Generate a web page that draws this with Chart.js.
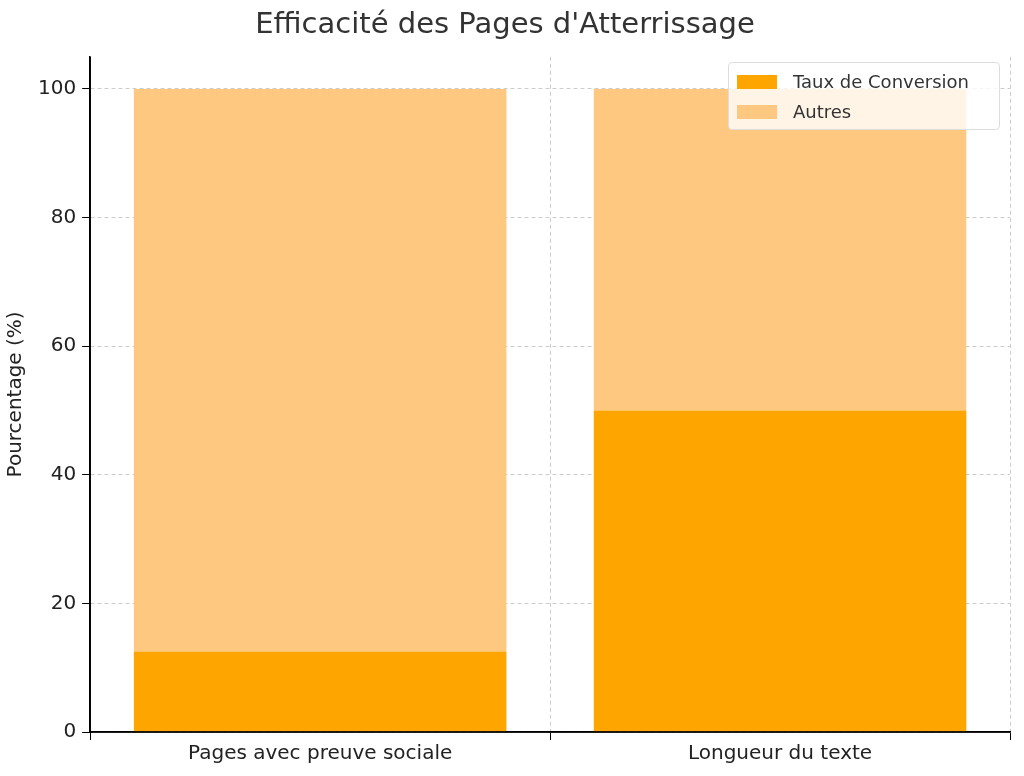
<!DOCTYPE html>
<html><head><meta charset="utf-8">
<script src="https://cdn.jsdelivr.net/npm/chart.js@4"></script>
<style>
html,body{margin:0;padding:0;background:#fff;}
#wrap{position:relative;width:1024px;height:776px;}
#legend{position:absolute;left:728px;top:62px;width:270px;height:66px;border:1px solid #ddd;border-radius:4px;background:rgba(255,255,255,0.8);font-family:"DejaVu Sans";font-size:18px;color:#333;}
.li{position:absolute;left:8px;display:flex;align-items:center;}
.sw{width:40px;height:14px;margin-right:16px;}
</style></head><body>
<div id="wrap"><canvas id="c" width="1024" height="776"></canvas>
<div id="legend">
<div class="li" style="top:8px"><div class="sw" style="background:#FFA500"></div>Taux de Conversion</div>
<div class="li" style="top:38px"><div class="sw" style="background:#FFC880"></div>Autres</div>
</div></div>
<script>
const categories = ["Pages avec preuve sociale", "Longueur du texte"];
const conversion = [12.5, 50];
const autres = [87.5, 50];
const yTicks = [0, 20, 40, 60, 80, 100];

const font = {family: "DejaVu Sans"};
new Chart(document.getElementById('c'), {
  type: 'bar',
  data: {
    labels: categories,
    datasets: [
      {label: 'Taux de Conversion', data: conversion, backgroundColor: '#FFA500', barPercentage: 0.81, categoryPercentage: 1},
      {label: 'Autres', data: autres, backgroundColor: '#FFC880', barPercentage: 0.81, categoryPercentage: 1}
    ]
  },
  options: {
    responsive: false, animation: false,
    layout: {padding: {top: 0, right: 14, left: 0, bottom: 8}},
    plugins: {
      legend: {display: false},
      tooltip: {enabled: false},
      title: {display: true, text: "Efficacité des Pages d'Atterrissage", color: '#333', font: {family: "DejaVu Sans", size: 29, weight: 'normal'}, padding: {top: 8, bottom: 14}}
    },
    scales: {
      x: {
        stacked: true,
        grid: {color: '#ccc', borderDash: [4, 3], drawTicks: true, tickLength: 8, tickColor: '#000'},
        border: {color: '#000', width: 1.5, dash: [4,3]},
        ticks: {color: '#222', font: {family: "DejaVu Sans", size: 20}, padding: 2}
      },
      y: {
        stacked: true, min: 0, max: 105,
        afterBuildTicks: (s) => { s.ticks = yTicks.map(v => ({value: v})); },
        grid: {color: '#ccc', tickLength: 8, tickColor: '#000'},
        border: {color: '#000', width: 1.5, dash: [4,3]},
        ticks: {color: '#222', font: {family: "DejaVu Sans", size: 20}, padding: 6},
        title: {display: true, text: 'Pourcentage (%)', color: '#222', font: {family: "DejaVu Sans", size: 20}, padding: 4}
      }
    }
  },
  plugins: [{
    id: 'fix',
    beforeDraw(chart) {
      const ctx = chart.ctx;
      ctx.save(); ctx.fillStyle = '#fff'; ctx.fillRect(0, 0, chart.width, chart.height); ctx.restore();
    },
    afterDraw(chart) {
      const {ctx, chartArea: a} = chart;
      ctx.save(); ctx.strokeStyle = '#000'; ctx.lineWidth = 1.5; ctx.setLineDash([]);
      ctx.beginPath(); ctx.moveTo(a.left, a.top); ctx.lineTo(a.left, a.bottom); ctx.lineTo(a.right, a.bottom); ctx.stroke();
      ctx.restore();
    }
  }]
});
</script></body></html>
